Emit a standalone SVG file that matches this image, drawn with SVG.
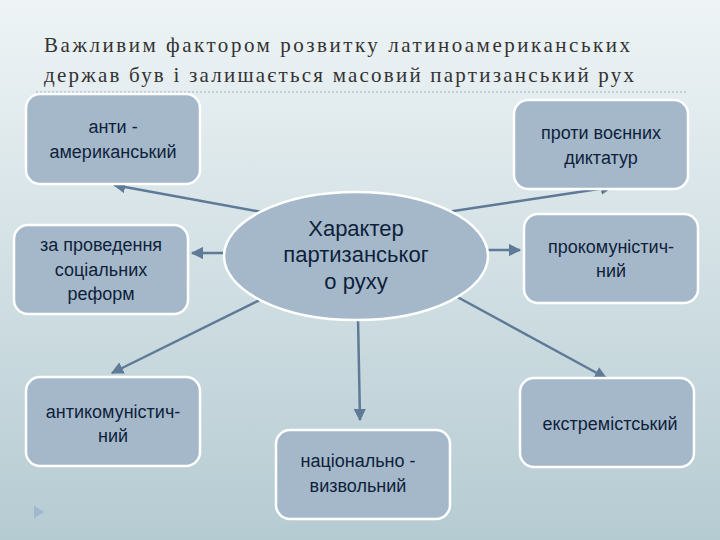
<svg xmlns="http://www.w3.org/2000/svg" width="720" height="540" viewBox="0 0 720 540">
<defs>
<linearGradient id="bg" x1="0" y1="0" x2="0" y2="1"><stop offset="0" stop-color="#eef4f6"/><stop offset="1" stop-color="#b5cbd2"/></linearGradient>
<marker id="ar" viewBox="0 0 10 10" refX="9" refY="5" markerWidth="5" markerHeight="5" orient="auto"><path d="M0,0 L10,5 L0,10 z" fill="#5e7a96"/></marker>
</defs>
<style>
.n{fill:#a4b8ca;stroke:#fff;stroke-width:2.5}
.t{font-family:"Liberation Sans",Arial,sans-serif;font-size:18px;fill:#0f1f3a;text-anchor:middle}
.tc{font-family:"Liberation Sans",Arial,sans-serif;font-size:22px;fill:#0f1f3a;text-anchor:middle}
.c{stroke:#5e7a96;stroke-width:2.5;fill:none;marker-end:url(#ar)}
.h{font-family:"Liberation Serif",serif;font-size:21px;fill:#333}
</style>
<rect width="720" height="540" fill="url(#bg)"/>
<text class="h" x="44" y="52" textLength="586" lengthAdjust="spacing">Важливим фактором розвитку латиноамериканських</text>
<text class="h" x="44" y="82" textLength="590" lengthAdjust="spacing">держав був і залишається масовий партизанський рух</text>
<line x1="36" y1="92" x2="686" y2="92" stroke="#aab" stroke-dasharray="2,2"/>
<g id="connectors">
<path class="c" d="M262,212 L114,185"/>
<path class="c" d="M224,253 L192,253"/>
<path class="c" d="M270,295 L112,373"/>
<path class="c" d="M447,212 L612,187"/>
<path class="c" d="M488,250 L520,250"/>
<path class="c" d="M450,293 L606,378"/>
<path class="c" d="M358,318 L360,420"/>
</g>
<g id="n1"><rect class="n" x="26" y="94" width="174" height="90" rx="14"/><text class="t" x="113" y="133">анти -</text><text class="t" x="113" y="158">американський</text></g>
<g id="n2"><rect class="n" x="514" y="100" width="174" height="89" rx="14"/><text class="t" x="601" y="139">проти воєнних</text><text class="t" x="601" y="164">диктатур</text></g>
<g id="n3"><rect class="n" x="14" y="225" width="174" height="89" rx="14"/><text class="t" x="101" y="251">за проведення</text><text class="t" x="101" y="276">соціальних</text><text class="t" x="101" y="300">реформ</text></g>
<g id="n4"><rect class="n" x="524" y="214" width="174" height="89" rx="14"/><text class="t" x="611" y="253">прокомуністич-</text><text class="t" x="611" y="277">ний</text></g>
<g id="n5"><rect class="n" x="26" y="377" width="174" height="89" rx="14"/><text class="t" x="113" y="418">антикомуністич-</text><text class="t" x="113" y="442">ний</text></g>
<g id="n6"><rect class="n" x="520" y="378" width="174" height="89" rx="14"/><text class="t" x="610" y="430">екстремістський</text></g>
<g id="n7"><rect class="n" x="276" y="430" width="174" height="89" rx="14"/><text class="t" x="358" y="467">національно -</text><text class="t" x="358" y="492">визвольний</text></g>
<g id="center"><ellipse class="n" cx="356" cy="256" rx="132" ry="64"/><text class="tc" x="356" y="236">Характер</text><text class="tc" x="356" y="262">партизанськог</text><text class="tc" x="356" y="289">о руху</text></g>
<path d="M34,506 L44,512 L34,518 z" fill="#9fb8cc"/>
</svg>
